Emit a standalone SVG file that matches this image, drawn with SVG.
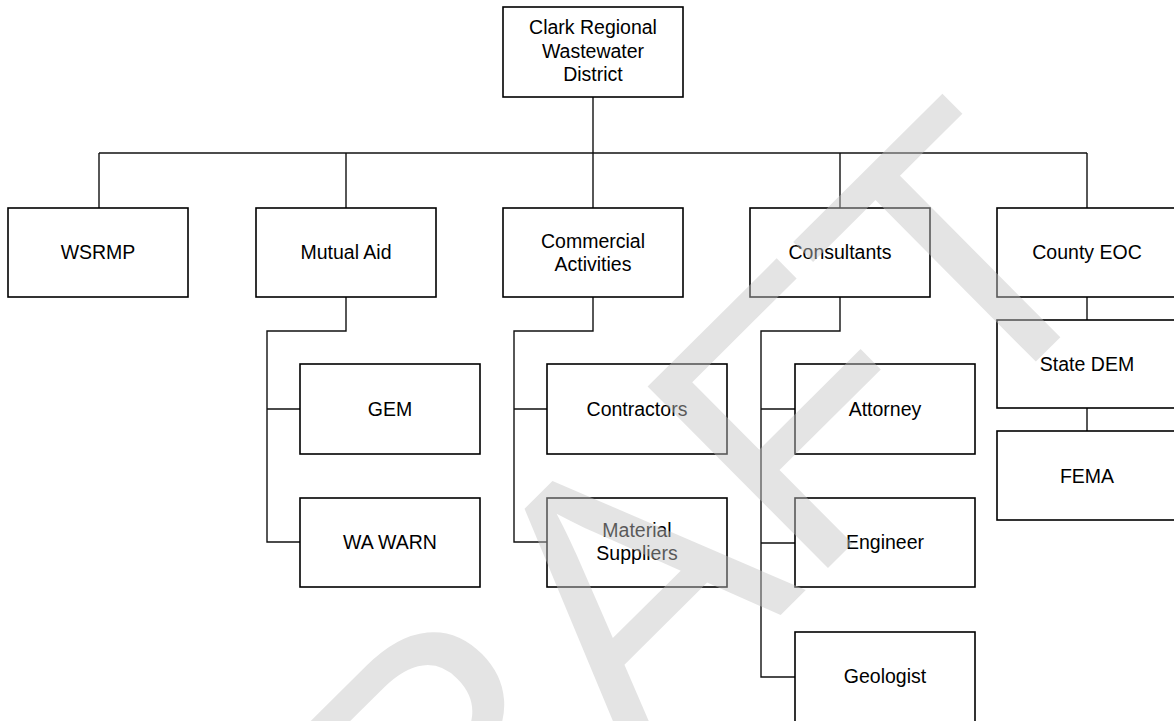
<svg xmlns="http://www.w3.org/2000/svg" width="1174" height="721" viewBox="0 0 1174 721">
<style>
.box{fill:#fff;stroke:#000;stroke-width:1.6}
.lbl{font-family:"Liberation Sans",Arial,sans-serif;font-size:19.5px;fill:#000;text-anchor:middle}
.con{fill:none;stroke:#111;stroke-width:1.4}
.wm{font-family:"Liberation Sans",Arial,sans-serif;font-size:372px;fill:#c4c4c4;opacity:0.45}
</style>
<rect width="1174" height="721" fill="#fff"/>
<g id="connectors" class="con">
<path d="M593 97V153"/>
<path d="M99 153H1087"/>
<path d="M99 153V208M346 153V208M593 153V208M840 153V208M1087 153V208"/>
<path d="M346 297V331H267V542H300M267 409H300"/>
<path d="M593 297V331H514V542H547M514 409H547"/>
<path d="M840 297V331H761V677H795M761 409H795M761 543H795"/>
<path d="M1087 297V320M1087 408V431"/>
</g>
<g id="n-clark"><rect class="box" x="503" y="7" width="180" height="90"/><text class="lbl" x="593" y="34.3">Clark Regional</text><text class="lbl" x="593" y="57.6">Wastewater</text><text class="lbl" x="593" y="81">District</text></g>
<g id="n-wsrmp"><rect class="box" x="8" y="208" width="180" height="89"/><text class="lbl" x="98" y="259">WSRMP</text></g>
<g id="n-mutual"><rect class="box" x="256" y="208" width="180" height="89"/><text class="lbl" x="346" y="259">Mutual Aid</text></g>
<g id="n-commercial"><rect class="box" x="503" y="208" width="180" height="89"/><text class="lbl" x="593" y="247.5">Commercial</text><text class="lbl" x="593" y="271">Activities</text></g>
<g id="n-consultants"><rect class="box" x="750" y="208" width="180" height="89"/><text class="lbl" x="840" y="259">Consultants</text></g>
<g id="n-county"><rect class="box" x="997" y="208" width="180" height="89"/><text class="lbl" x="1087" y="259">County EOC</text></g>
<g id="n-gem"><rect class="box" x="300" y="364" width="180" height="90"/><text class="lbl" x="390" y="416">GEM</text></g>
<g id="n-wawarn"><rect class="box" x="300" y="498" width="180" height="89"/><text class="lbl" x="390" y="549">WA WARN</text></g>
<g id="n-contractors"><rect class="box" x="547" y="364" width="180" height="90"/><text class="lbl" x="637" y="416">Contractors</text></g>
<g id="n-material"><rect class="box" x="547" y="498" width="180" height="89"/><text class="lbl" x="637" y="536.5">Material</text><text class="lbl" x="637" y="560">Suppliers</text></g>
<g id="n-attorney"><rect class="box" x="795" y="364" width="180" height="90"/><text class="lbl" x="885" y="416">Attorney</text></g>
<g id="n-engineer"><rect class="box" x="795" y="498" width="180" height="89"/><text class="lbl" x="885" y="549">Engineer</text></g>
<g id="n-geologist"><rect class="box" x="795" y="632" width="180" height="90"/><text class="lbl" x="885" y="683">Geologist</text></g>
<g id="n-statedem"><rect class="box" x="997" y="320" width="180" height="88"/><text class="lbl" x="1087" y="371">State DEM</text></g>
<g id="n-fema"><rect class="box" x="997" y="431" width="180" height="89"/><text class="lbl" x="1087" y="482.5">FEMA</text></g>
<g id="watermark"><text class="wm" transform="translate(249 1143) rotate(-44.8)">DRAFT</text></g>
</svg>
